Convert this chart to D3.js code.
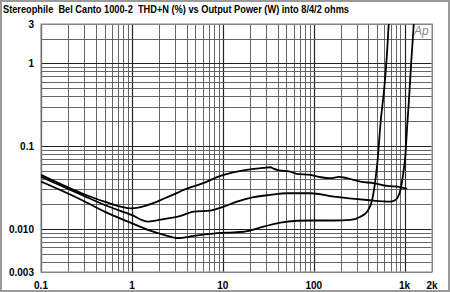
<!DOCTYPE html>
<html>
<head>
<meta charset="utf-8">
<script src="https://cdn.jsdelivr.net/npm/d3@7"></script>
<style>
  body { margin: 0; background: #fff; }
  svg { display: block; font-family: "Liberation Sans", Arial, sans-serif; }
</style>
</head>
<body>
<div id="chart"></div>
<script>
// Output power (W) and THD+N (%), one pair of arrays per load
const powerA = [0.1, 0.28, 0.5, 0.99, 1.5, 2.3, 3.2, 3.7, 6.1, 9.4, 14.3, 21.8, 28, 33.3, 36, 39.4, 55, 65, 92, 120, 152, 190, 233, 326, 457, 642, 899, 1066];
const thdA   = [0.0448, 0.0269, 0.0213, 0.0177, 0.0194, 0.0234, 0.0274, 0.0295, 0.0356, 0.0436, 0.0491, 0.053, 0.0545, 0.0555, 0.0535, 0.0515, 0.0491, 0.0461, 0.0448, 0.042, 0.0409, 0.0425, 0.0409, 0.0372, 0.0356, 0.033, 0.0318, 0.0303];

const powerB = [0.1, 0.28, 0.5, 0.99, 1.5, 2.3, 3.2, 4.8, 7.3, 10.2, 14.3, 21.8, 33.3, 50.8, 92, 166, 386, 698, 792, 899, 970, 1020, 1060, 1110, 1180, 1260];
const thdB   = [0.0424, 0.0257, 0.0194, 0.0147, 0.0122, 0.0132, 0.014, 0.0161, 0.0166, 0.0185, 0.0213, 0.0241, 0.0257, 0.0269, 0.0269, 0.0245, 0.0223, 0.0213, 0.0223, 0.0295, 0.0487, 0.0781, 0.157, 0.332, 1.01, 3.0];

const powerC = [0.1, 0.28, 0.5, 0.99, 1.5, 2.3, 3.2, 4.8, 7.3, 11.1, 16.9, 28.1, 42.9, 65.5, 92, 166, 253, 326, 386, 439, 477, 505, 541, 604, 643, 668];
const thdC   = [0.0372, 0.0223, 0.0161, 0.0117, 0.0097, 0.0084, 0.0077, 0.0082, 0.0087, 0.009, 0.0092, 0.0106, 0.0119, 0.0125, 0.0126, 0.0126, 0.0128, 0.014, 0.0161, 0.0223, 0.039, 0.068, 0.18, 0.58, 1.45, 3.0];

const xTickValues = [0.1, 1, 10, 100, 1000, 2000];
const xTickLabels = ["0.1", "1", "10", "100", "1k", "2k"];
const yTickValues = [3, 1, 0.1, 0.01, 0.003];
const yTickLabels = ["3", "1", "0.1", "0.010", "0.003"];

const width = 450, height = 292;
const svg = d3.select("#chart").append("svg")
  .attr("width", width)
  .attr("height", height);

// outer frame
svg.append("rect")
  .attr("x", 1).attr("y", 1)
  .attr("width", width - 2).attr("height", height - 2)
  .attr("fill", "#fff")
  .attr("stroke", "#9a9a9a")
  .attr("stroke-width", 2);

const x = d3.scaleLog().domain([0.1, 2000]).range([41, 432]);
const y = d3.scaleLog().domain([0.003, 3]).range([272, 24]);

// grid lines at every 1..9 multiple of each decade
const xGrid = [];
[0.1, 1, 10, 100, 1000].forEach(d => {
  for (let m = 1; m <= 9; m++) if (d * m <= 2000) xGrid.push({ v: d * m, major: m === 1 });
});
const yGrid = [];
[0.001, 0.01, 0.1, 1].forEach(d => {
  for (let m = 1; m <= 9; m++) {
    const v = d * m;
    if (v >= 0.003 - 1e-9 && v <= 3 + 1e-9) yGrid.push({ v: v, major: m === 1 });
  }
});

const grid = svg.append("g");
grid.selectAll(".gx").data(xGrid).enter().append("line")
  .attr("x1", d => Math.round(x(d.v)) + 0.5).attr("x2", d => Math.round(x(d.v)) + 0.5)
  .attr("y1", y(3)).attr("y2", y(0.003))
  .attr("stroke", d => d.major ? "#222" : "#555")
  .attr("stroke-width", d => d.major ? 1.2 : 0.9);
grid.selectAll(".gy").data(yGrid).enter().append("line")
  .attr("y1", d => Math.round(y(d.v)) + 0.5).attr("y2", d => Math.round(y(d.v)) + 0.5)
  .attr("x1", x(0.1)).attr("x2", x(2000))
  .attr("stroke", d => d.major ? "#222" : "#555")
  .attr("stroke-width", d => d.major ? 1.2 : 0.9);

// plot frame
svg.append("rect")
  .attr("x", x(0.1)).attr("y", y(3))
  .attr("width", x(2000) - x(0.1)).attr("height", y(0.003) - y(3))
  .attr("fill", "none")
  .attr("stroke", "#999")
  .attr("stroke-width", 1.2);

svg.append("clipPath").attr("id", "plotclip")
  .append("rect")
  .attr("x", x(0.1)).attr("y", y(3))
  .attr("width", x(2000) - x(0.1)).attr("height", y(0.003) - y(3));

const line = d3.line()
  .x(d => x(d[0]))
  .y(d => y(d[1]))
  .curve(d3.curveMonotoneX);

[[powerA, thdA], [powerB, thdB], [powerC, thdC]].forEach(([p, t]) => {
  svg.append("path")
    .datum(p.map((v, i) => [v, t[i]]))
    .attr("clip-path", "url(#plotclip)")
    .attr("fill", "none")
    .attr("stroke", "#000")
    .attr("stroke-width", 1.8)
    .attr("stroke-linejoin", "round")
    .attr("d", line);
});

// title (double spaces kept)
svg.append("text")
  .attr("x", 3).attr("y", 13)
  .attr("font-size", "10.5px")
  .attr("font-weight", "bold")
  .attr("textLength", 346)
  .attr("lengthAdjust", "spacingAndGlyphs")
  .style("white-space", "pre")
  .text("Stereophile  Bel Canto 1000-2  THD+N (%) vs Output Power (W) into 8/4/2 ohms");

// tick labels
svg.selectAll(".xl").data(xTickValues).enter().append("text")
  .attr("x", d => x(d))
  .attr("y", 289)
  .attr("text-anchor", "middle")
  .attr("font-size", "10px")
  .attr("font-weight", "bold")
  .text((d, i) => xTickLabels[i]);

svg.selectAll(".yl").data(yTickValues).enter().append("text")
  .attr("x", 34)
  .attr("y", d => y(d) + 4)
  .attr("text-anchor", "end")
  .attr("font-size", "10px")
  .attr("font-weight", "bold")
  .text((d, i) => yTickLabels[i]);

// Ap logo
svg.append("text")
  .attr("x", 414).attr("y", 35)
  .attr("font-size", "12px")
  .attr("font-style", "italic")
  .attr("fill", "#888")
  .text("Ap");
</script>
</body>
</html>
